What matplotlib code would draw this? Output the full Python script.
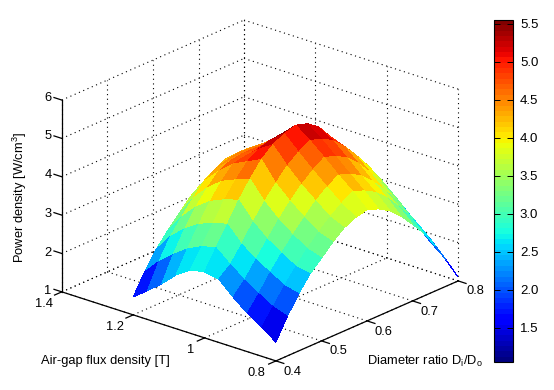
import numpy as np
import matplotlib
matplotlib.use('Agg')
import matplotlib.pyplot as plt
from matplotlib.cm import ScalarMappable
from matplotlib.colors import Normalize

plt.rcParams['font.family'] = ['Liberation Sans', 'DejaVu Sans']
plt.rcParams['mathtext.default'] = 'regular'
plt.rcParams['font.size'] = 9.3

# data
ratio = [0.400, 0.425, 0.450, 0.475, 0.500, 0.525, 0.550, 0.575, 0.600,
         0.625, 0.650, 0.675, 0.700, 0.725, 0.750, 0.775, 0.800]
flux = [0.80, 0.84, 0.88, 0.92, 0.96, 1.00, 1.04, 1.08, 1.12, 1.16, 1.20]
b080 = [1.49, 2.03, 2.49, 2.88, 3.16, 3.45, 3.69, 3.83, 3.90, 3.79, 3.61, 3.33, 3.00, 2.63, 2.17, 1.65, 1.10]
b084 = [1.75, 2.16, 2.58, 2.95, 3.28, 3.58, 3.85, 4.07, 4.25, 4.14, 3.97, 3.70, 3.35, 2.96, 2.52, 2.03, 1.50]
b088 = [2.00, 2.38, 2.80, 3.18, 3.52, 3.85, 4.15, 4.38, 4.56, 4.46, 4.28, 4.01, 3.66, 3.28, 2.83, 2.33, 1.80]
b092 = [2.30, 2.62, 3.02, 3.42, 3.80, 4.15, 4.45, 4.70, 4.90, 4.80, 4.63, 4.35, 4.00, 3.61, 3.18, 2.68, 2.15]
b096 = [2.65, 2.90, 3.30, 3.75, 4.15, 4.50, 4.82, 5.05, 5.22, 5.13, 4.96, 4.68, 4.33, 3.94, 3.50, 3.00, 2.45]
b100 = [2.72, 3.22, 3.70, 4.20, 4.62, 5.00, 5.25, 5.41, 5.50, 5.41, 5.20, 4.82, 4.48, 4.13, 3.75, 3.28, 2.75]
b104 = [2.65, 3.13, 3.61, 4.09, 4.48, 4.82, 5.02, 5.12, 5.15, 5.13, 5.05, 4.88, 4.55, 4.16, 3.72, 3.22, 2.68]
b108 = [2.40, 2.95, 3.46, 3.93, 4.32, 4.64, 4.70, 4.74, 4.78, 4.84, 4.87, 4.85, 4.58, 4.19, 3.66, 3.10, 2.50]
b112 = [2.05, 2.68, 3.22, 3.66, 4.03, 4.33, 4.47, 4.52, 4.52, 4.51, 4.52, 4.58, 4.40, 4.09, 3.53, 2.89, 2.20]
b116 = [1.75, 2.38, 2.90, 3.28, 3.64, 3.96, 4.15, 4.25, 4.30, 4.29, 4.27, 4.25, 4.08, 3.79, 3.26, 2.60, 1.85]
b120 = [1.47, 1.99, 2.44, 2.79, 3.11, 3.42, 3.64, 3.83, 4.00, 4.03, 4.03, 3.96, 3.75, 3.44, 2.91, 2.16, 1.25]

ratio_ticks = [0.4, 0.5, 0.6, 0.7, 0.8]
flux_ticks = [0.8, 1.0, 1.2, 1.4]
z_ticks = [1, 2, 3, 4, 5, 6]
cbar_ticks = [1.5, 2.0, 2.5, 3.0, 3.5, 4.0, 4.5, 5.0, 5.5]

W, H = 554, 390
fig = plt.figure(figsize=(W / 100, H / 100), dpi=100, facecolor='white')

# 3d box, orthographic like the matlab view
side = 600
left = 260 - 0.5135 * side
bottom = (H - 190.5) - 0.5135 * side
ax = fig.add_axes([left / W, bottom / H, side / W, side / H], projection='3d')
ax.set_proj_type('ortho')
ax.view_init(elev=22.1, azim=220.6)
ax.set_box_aspect((280, 282, 207), zoom=435 / side)
ax.set_xlim(0.4, 0.8)
ax.set_ylim(0.8, 1.4)
ax.set_zlim(1, 6)
ax.set_axis_off()
ax.computed_zorder = False
ax.patch.set_alpha(0)

Z = np.array([b080, b084, b088, b092, b096, b100, b104, b108, b112, b116, b120])
X, Y = np.meshgrid(ratio, flux)
norm = Normalize(vmin=1.05, vmax=5.55)
cmap = plt.get_cmap('jet', 64)
ax.plot_surface(X, Y, Z, rstride=1, cstride=1, facecolors=cmap(norm(Z)),
                shade=False, antialiased=False, linewidth=0, zorder=3)

grid = dict(color='black', linestyle=(0, (1, 3.2)), linewidth=0.8, zorder=1)
xl, xh, yl, yh, zl, zh = 0.4, 0.8, 0.8, 1.4, 1, 6
# floor and walls
for d in ratio_ticks:
    ax.plot([d, d], [yl, yh], [zl, zl], **grid)
    ax.plot([d, d], [yh, yh], [zl, zh], **grid)
for b in flux_ticks:
    ax.plot([xl, xh], [b, b], [zl, zl], **grid)
    ax.plot([xh, xh], [b, b], [zl, zh], **grid)
for z in z_ticks:
    ax.plot([xl, xh], [yh, yh], [z, z], **grid)
    ax.plot([xh, xh], [yl, yh], [z, z], **grid)

# solid axes and ticks
solid = dict(color='black', linewidth=0.9, zorder=2)
ax.plot([xl, xl], [yl, yh], [zl, zl], **solid)
ax.plot([xl, xh], [yl, yl], [zl, zl], **solid)
ax.plot([xl, xl], [yh, yh], [zl, zh], **solid)
for d in ratio_ticks:
    ax.plot([d, d], [yl, yl - 0.022], [zl, zl], **solid)
for b in flux_ticks:
    ax.plot([xl, xl - 0.016], [b, b], [zl, zl], **solid)
for z in z_ticks:
    ax.plot([xl, xl], [yh, yh + 0.022], [z, z], **solid)


def label(px, py, s, **kw):
    fig.text(px / W, 1 - py / H, s, ha='center', va='center', **kw)


for z, py in zip(z_ticks, [291, 253, 214, 175, 136, 98]):
    label(48, py, str(z))
for s, px, py in zip(['1.4', '1.2', '1', '0.8'], [44, 115, 191, 256], [304, 327, 350, 373]):
    label(px, py, s)
for d, px, py in zip(ratio_ticks, [292, 338, 383, 429, 475], [372, 351, 332, 312, 291]):
    label(px, py, str(d))

label(105, 361, 'Air-gap flux density [T]')
label(425, 361, 'Diameter ratio D$_i$/D$_o$')
label(20, 197, 'Power density [W/cm$^3$]', rotation=90)

# colorbar
cax = fig.add_axes([494 / W, 1 - 362 / H, 19 / W, 342 / H])
cb = fig.colorbar(ScalarMappable(norm=norm, cmap=cmap), cax=cax)
cb.set_ticks(cbar_ticks)
cb.ax.set_yticklabels(['%.1f' % t for t in cbar_ticks])
cb.ax.tick_params(left=True, right=True, direction='in', length=4, width=0.7, labelsize=9.5, pad=5)
cb.outline.set_linewidth(0.8)

fig.savefig('out.png', dpi=100)
